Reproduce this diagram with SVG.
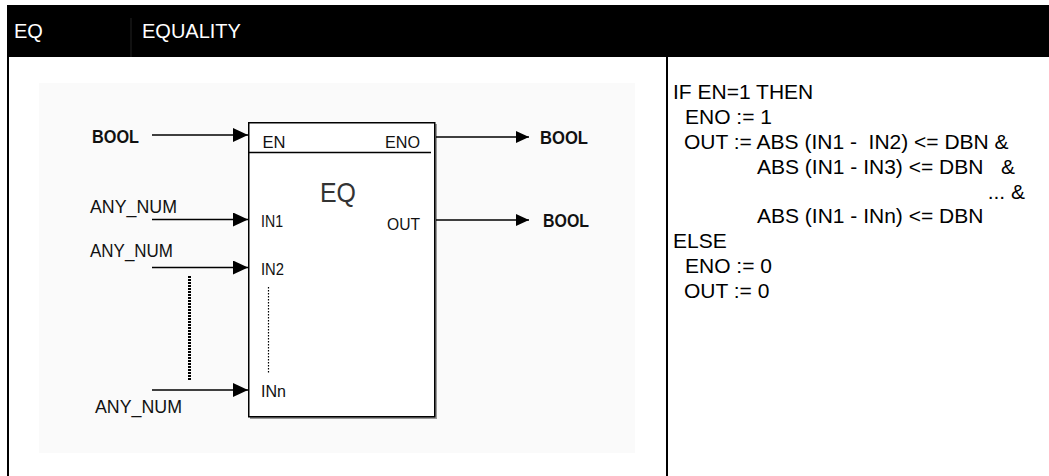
<svg xmlns="http://www.w3.org/2000/svg" width="1049" height="476" viewBox="0 0 1049 476">
<style>
.hdr{font-family:"Liberation Sans",Arial,sans-serif;font-size:20px;fill:#fff}
.lbl{font-family:"Liberation Sans",Arial,sans-serif;font-size:18px;fill:#111}
.pin{font-family:"Liberation Sans",Arial,sans-serif;font-size:17px;fill:#111}
.code{font-family:"Liberation Sans",Arial,sans-serif;font-size:21px;fill:#000;white-space:pre}
.wire{stroke:#000;stroke-width:1.6;fill:none}
</style>
<defs>
<marker id="ah" markerUnits="userSpaceOnUse" markerWidth="16" markerHeight="14" refX="15" refY="7" orient="auto">
<path d="M0,0 L15,7 L0,14 Z" fill="#000"/>
</marker>
<marker id="ah2" markerUnits="userSpaceOnUse" markerWidth="14" markerHeight="12" refX="13" refY="6" orient="auto">
<path d="M0,0 L13,6 L0,12 Z" fill="#000"/>
</marker>
</defs>
<rect x="0" y="0" width="1049" height="476" fill="#fff"/>
<g id="header">
<rect x="7" y="5" width="1042" height="52" fill="#000"/>
<line x1="131" y1="18" x2="131" y2="57" stroke="#222" stroke-width="1"/>
<text class="hdr" x="14" y="38">EQ</text>
<text class="hdr" x="142" y="38">EQUALITY</text>
</g>
<g id="frame">
<rect x="7" y="57" width="2" height="419" fill="#000"/>
<rect x="666" y="57" width="2" height="419" fill="#000"/>
<rect x="39" y="83" width="596" height="370" fill="#fafafa"/>
</g>
<g id="eq-block">
<rect x="250" y="124" width="187" height="295" fill="#9a9a9a"/>
<rect x="248.75" y="122.75" width="186" height="294" fill="#fff" stroke="#000" stroke-width="1.5"/>
<line x1="249" y1="152.5" x2="431" y2="152.5" stroke="#000" stroke-width="1.5"/>
<text x="320" y="201.5" font-family="Liberation Sans, Arial, sans-serif" font-size="28" fill="#333" textLength="36" lengthAdjust="spacingAndGlyphs">EQ</text>
<text class="pin" x="262.5" y="148" textLength="23" lengthAdjust="spacingAndGlyphs">EN</text>
<text class="pin" x="385" y="148" textLength="35" lengthAdjust="spacingAndGlyphs">ENO</text>
<text class="pin" x="261" y="226.5" textLength="22" lengthAdjust="spacingAndGlyphs">IN1</text>
<text class="pin" x="387" y="230" textLength="33" lengthAdjust="spacingAndGlyphs">OUT</text>
<text class="pin" x="261" y="275" textLength="23" lengthAdjust="spacingAndGlyphs">IN2</text>
<text class="pin" x="261" y="396.5" textLength="25" lengthAdjust="spacingAndGlyphs">INn</text>
<line x1="268.5" y1="287" x2="268.5" y2="373" stroke="#000" stroke-width="1.2" stroke-dasharray="1.5 1.5"/>
</g>
<g id="connectors">
<line class="wire" x1="152" y1="135" x2="248" y2="135" marker-end="url(#ah)"/>
<line class="wire" x1="152" y1="219.5" x2="248" y2="219.5" marker-end="url(#ah)"/>
<line class="wire" x1="152" y1="267.5" x2="248" y2="267.5" marker-end="url(#ah)"/>
<line class="wire" x1="152" y1="390" x2="248" y2="390" marker-end="url(#ah)"/>
<line class="wire" x1="436" y1="137" x2="529" y2="137" marker-end="url(#ah2)"/>
<line class="wire" x1="436" y1="220" x2="529" y2="220" marker-end="url(#ah2)"/>
<line x1="189.5" y1="276" x2="189.5" y2="381" stroke="#000" stroke-width="3" stroke-dasharray="2 1"/>
</g>
<g id="labels">
<text class="lbl" x="92" y="142.5" font-weight="bold" textLength="47" lengthAdjust="spacingAndGlyphs">BOOL</text>
<text class="lbl" x="90" y="213" textLength="87" lengthAdjust="spacingAndGlyphs">ANY_NUM</text>
<text class="lbl" x="90" y="256.5" textLength="83" lengthAdjust="spacingAndGlyphs">ANY_NUM</text>
<text class="lbl" x="95" y="413" textLength="87" lengthAdjust="spacingAndGlyphs">ANY_NUM</text>
<text class="lbl" x="540" y="144" font-weight="bold" textLength="48" lengthAdjust="spacingAndGlyphs">BOOL</text>
<text class="lbl" x="543" y="227" font-weight="bold" textLength="46" lengthAdjust="spacingAndGlyphs">BOOL</text>
</g>
<g id="code">
<text class="code" x="673" y="99">IF EN=1 THEN</text>
<text class="code" x="685" y="124">ENO := 1</text>
<text class="code" x="684" y="149">OUT := ABS (IN1 -  IN2) &lt;= DBN &amp;</text>
<text class="code" x="757" y="173.5">ABS (IN1 - IN3) &lt;= DBN   &amp;</text>
<text class="code" x="1025" y="198.5" text-anchor="end">... &amp;</text>
<text class="code" x="757" y="223">ABS (IN1 - INn) &lt;= DBN</text>
<text class="code" x="673" y="248">ELSE</text>
<text class="code" x="685" y="273">ENO := 0</text>
<text class="code" x="684" y="298">OUT := 0</text>
</g>
</svg>
